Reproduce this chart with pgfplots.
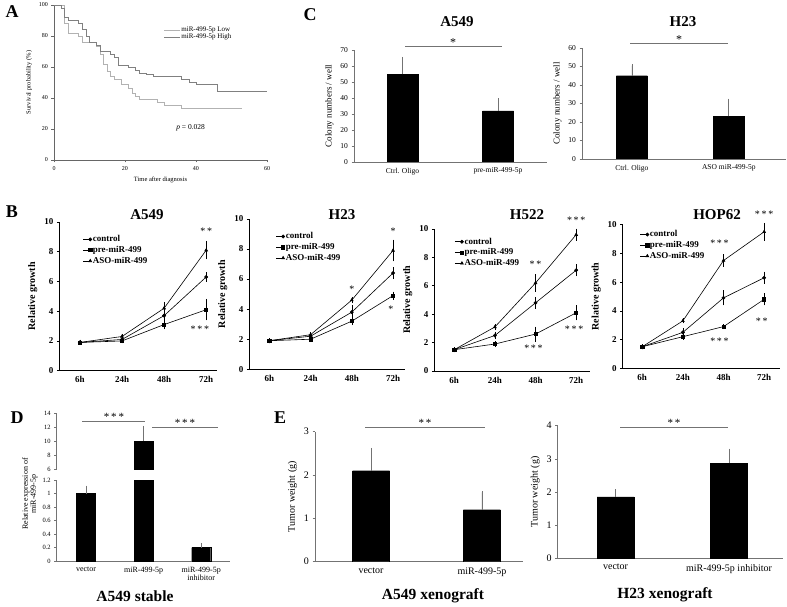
\documentclass[border=0pt]{standalone}
\usepackage{pgfplots}
\pgfplotsset{compat=1.18}
\usepackage{fontspec}
\setmainfont{Liberation Serif}
\newcommand{\fs}[1]{\fontsize{#1}{#1}\selectfont}
\definecolor{axgray}{gray}{0.45}
\definecolor{errgray}{gray}{0.45}
\pgfplotsset{
  base/.style={scale only axis, anchor=south west,
    axis x line*=bottom, axis y line*=left,
    /pgf/number format/assume math mode=true,
    tick align=outside, major tick length=2.5pt,
    axis line style={axgray, line width=0.6pt},
    every tick/.style={axgray, line width=0.6pt},
  },
  barax/.style={base, ybar, ymin=0, xtick=data,
    major x tick style={draw=none},
    xticklabel style={align=center},
  },
  barplot/.style={fill=black, draw=black,
    error bars/y dir=plus, error bars/y explicit,
    error bars/error bar style={errgray, line width=0.7pt},
    error bars/error mark options={errgray, mark size=1.2pt, line width=0.7pt}},
  grow/.style={base, ymin=0, ymax=10, xtick={0,1,2,3}, xticklabels={6h,24h,48h,72h},
    ytick={0,2,4,6,8,10},
    major x tick style={draw=none}, clip=false,
    axis line style={black, line width=0.6pt}, every tick/.style={black, line width=0.6pt},
    tick label style={font=\fs{9}\bfseries},
    ylabel={Relative growth}, ylabel style={font=\fs{10}\bfseries},
    legend style={draw=none, fill=none, font=\fs{9}\bfseries, anchor=north west,
      legend cell align=left, row sep=1pt, nodes={inner sep=1pt}},
    legend image code/.code={\draw[mark repeat=2,mark phase=2] plot coordinates {(0pt,0pt) (7pt,0pt)};},
  },
  gline/.style={black, line width=0.6pt, mark size=1.6pt,
    error bars/y dir=both, error bars/y explicit, error bars/error bar style={line width=0.5pt},
    error bars/error mark options={mark size=1.8pt, line width=0.5pt}},
}
\begin{document}
\begin{tikzpicture}
\path[use as bounding box] (0pt,0pt) rectangle (787pt,606pt);

% ---------------- Panel A ----------------
\begin{axis}[base, at={(54pt,446pt)}, width=213pt, height=155pt,
  xmin=0, xmax=60, ymin=0, ymax=100, xtick={0,20,40,60}, ytick={0,20,40,60,80,100},
  axis line style={black!60}, every tick/.style={black!60},
  tick label style={font=\fs{6}},
  xlabel={Time after diagnosis}, ylabel={Survival probability (\%)},
  label style={font=\fs{6.5}},
  legend style={at={(0.5,0.88)}, anchor=north west, draw=none, fill=none,
    font=\fs{7}, legend cell align=left, row sep=-1pt, nodes={inner sep=1pt}},
  legend image code/.code={\draw (0pt,0pt)--(16pt,0pt);}]
\addplot[const plot, black!30, line width=0.7pt] coordinates {
(0,100) (3,88) (4,82) (7,80) (8,76) (12,73) (13,68) (14,62) (15,57) (16,54) (17,52)
(19,49) (21,46) (22,43) (23,41) (24,39) (29,37) (31,35) (36,33) (53,33)};
\addlegendentry{miR-499-5p Low}
\addplot[const plot, black!50, line width=0.7pt] coordinates {
(0,100) (2,98) (3,92) (4,90) (7,88) (8,84) (9,80) (10,76) (12,74) (13,70) (16,68)
(17,66) (18,61) (21,60) (23,58) (24,56) (26,55) (28,54) (36,52) (38,50) (40,49)
(46,44) (60,44)};
\addlegendentry{miR-499-5p High}
\node[font=\fs{7.5}] at (axis cs:38.5,21) {\textit{p} = 0.028};
\end{axis}

% ---------------- Panel C ----------------
\begin{axis}[barax, at={(354pt,444pt)}, width=193pt, height=112pt,
  xmin=-0.508, xmax=1.513, ymax=70, ytick={0,10,20,30,40,50,60,70},
  xticklabels={Ctrl. Oligo, pre-miR-499-5p},
  tick label style={font=\fs{7.5}}, ylabel={Colony numbers / well}, ylabel style={font=\fs{9}}]
\addplot[barplot, bar width=31pt] coordinates {(0,55) +- (0,10) (1,32) +- (0,7)};
\end{axis}
\begin{axis}[barax, at={(582pt,447pt)}, width=204pt, height=111pt,
  xmin=-0.515, xmax=1.59, ymax=60, ytick={0,10,20,30,40,50,60},
  xticklabels={Ctrl. Oligo, ASO miR-499-5p},
  tick label style={font=\fs{7.5}}, ylabel={Colony numbers / well}, ylabel style={font=\fs{9}}]
\addplot[barplot, bar width=31pt] coordinates {(0,45) +- (0,5.5) (1,23) +- (0,9)};
\end{axis}
\draw[axgray, line width=0.7pt] (405pt,560pt) -- (502pt,560pt);
\node[anchor=base, font=\fs{12}] at (453pt,559pt) {*};
\draw[axgray, line width=0.7pt] (630pt,563pt) -- (728pt,563pt);
\node[anchor=base, font=\fs{12}] at (679pt,562pt) {*};
\node[font=\fs{15}\bfseries] at (457pt,584pt) {A549};
\node[font=\fs{15}\bfseries] at (683pt,584pt) {H23};

% ---------------- Panel B ----------------
\begin{axis}[grow, at={(59.3pt,235.3pt)}, width=157.4pt, height=148.75pt,
  xmin=-0.49, xmax=3.25,
  legend style={at={(0.13,0.93)}}]
\addplot[gline, mark=*] coordinates {(0,1.9) +- (0,0.05) (1,2.1) +- (0,0.05) (2,3.7) +- (0,0.3) (3,6.3) +- (0,0.2)};
\addlegendentry{control}
\addplot[gline, mark=square*] coordinates {(0,1.9) +- (0,0.05) (1,2.0) +- (0,0.05) (2,3.1) +- (0,0.2) (3,4.1) +- (0,0.6)};
\addlegendentry{pre-miR-499}
\addplot[gline, mark=triangle*] coordinates {(0,1.9) +- (0,0.05) (1,2.3) +- (0,0.05) (2,4.2) +- (0,0.3) (3,8.1) +- (0,0.5)};
\addlegendentry{ASO-miR-499}
\node[font=\fs{10}] at (axis cs:3,9.35) {*\,*};
\node[font=\fs{10}] at (axis cs:2.85,2.8) {*\,*\,*};
\end{axis}

\begin{axis}[grow, at={(249.3pt,236.7pt)}, width=155.7pt, height=150.4pt,
  xmin=-0.485, xmax=3.29,
  legend style={at={(0.15,0.93)}}]
\addplot[gline, mark=*] coordinates {(0,1.9) +- (0,0.05) (1,2.2) +- (0,0.05) (2,3.8) +- (0,0.35) (3,6.4) +- (0,0.25)};
\addlegendentry{control}
\addplot[gline, mark=square*] coordinates {(0,1.9) +- (0,0.05) (1,2.0) +- (0,0.05) (2,3.2) +- (0,0.15) (3,4.9) +- (0,0.15)};
\addlegendentry{pre-miR-499}
\addplot[gline, mark=triangle*] coordinates {(0,1.9) +- (0,0.05) (1,2.3) +- (0,0.05) (2,4.6) +- (0,0.1) (3,7.9) +- (0,0.6)};
\addlegendentry{ASO-miR-499}
\node[font=\fs{10}] at (axis cs:2,5.3) {*};
\node[font=\fs{10}] at (axis cs:3,9.15) {*};
\node[font=\fs{10}] at (axis cs:2.95,4.0) {*};
\end{axis}

\begin{axis}[grow, at={(434.3pt,235pt)}, width=155.7pt, height=142pt,
  xmin=-0.49, xmax=3.34,
  legend style={at={(0.11,0.96)}}]
\addplot[gline, mark=*] coordinates {(0,1.5) +- (0,0.05) (1,2.5) +- (0,0.15) (2,4.8) +- (0,0.3) (3,7.1) +- (0,0.3)};
\addlegendentry{control}
\addplot[gline, mark=square*] coordinates {(0,1.5) +- (0,0.05) (1,1.9) +- (0,0.1) (2,2.6) +- (0,0.4) (3,4.1) +- (0,0.4)};
\addlegendentry{pre-miR-499}
\addplot[gline, mark=triangle*] coordinates {(0,1.5) +- (0,0.05) (1,3.1) +- (0,0.1) (2,6.2) +- (0,0.5) (3,9.6) +- (0,0.3)};
\addlegendentry{ASO-miR-499}
\node[font=\fs{10}] at (axis cs:2,7.5) {*\,*};
\node[font=\fs{10}] at (axis cs:3,10.6) {*\,*\,*};
\node[font=\fs{10}] at (axis cs:2.95,2.95) {*\,*\,*};
\node[font=\fs{10}] at (axis cs:1.95,1.6) {*\,*\,*};
\end{axis}

\begin{axis}[grow, at={(622.7pt,237.7pt)}, width=157.3pt, height=143.7pt,
  xmin=-0.48, xmax=3.39,
  legend style={at={(0.09,0.98)}}]
\addplot[gline, mark=*] coordinates {(0,1.5) +- (0,0.05) (1,2.5) +- (0,0.15) (2,4.9) +- (0,0.4) (3,6.3) +- (0,0.3)};
\addlegendentry{control}
\addplot[gline, mark=square*] coordinates {(0,1.5) +- (0,0.05) (1,2.2) +- (0,0.1) (2,2.9) +- (0,0.05) (3,4.8) +- (0,0.3)};
\addlegendentry{pre-miR-499}
\addplot[gline, mark=triangle*] coordinates {(0,1.5) +- (0,0.05) (1,3.3) +- (0,0.05) (2,7.5) +- (0,0.3) (3,9.5) +- (0,0.5)};
\addlegendentry{ASO-miR-499}
\node[font=\fs{10}] at (axis cs:1.9,8.7) {*\,*\,*};
\node[font=\fs{10}] at (axis cs:3,10.7) {*\,*\,*};
\node[font=\fs{10}] at (axis cs:2.94,3.25) {*\,*};
\node[font=\fs{10}] at (axis cs:1.9,1.85) {*\,*\,*};
\end{axis}
\node[font=\fs{15}\bfseries] at (147pt,391pt) {A549};
\node[font=\fs{15}\bfseries] at (342pt,391pt) {H23};
\node[font=\fs{15}\bfseries] at (527pt,391pt) {H522};
\node[font=\fs{15}\bfseries] at (717pt,391pt) {HOP62};

% ---------------- Panel D ----------------
\begin{axis}[barax, at={(56.7pt,45pt)}, width=173.3pt, height=81pt,
  xmin=-0.51, xmax=2.5, ymax=1.2, ytick={0,0.2,0.4,0.6,0.8,1,1.2},
  xticklabels={vector, miR-499-5p, {miR-499-5p\\inhibitor}},
  yticklabel style={font=\fs{6.5}}, xticklabel style={font=\fs{8}}]
\addplot[barplot, bar width=19pt] coordinates {(0,1) +- (0,0.1) (1,10) +- (0,0) (2,0.2) +- (0,0.05)};
\end{axis}
\begin{axis}[base, ybar, at={(56.7pt,136.7pt)}, width=173.3pt, height=56.3pt,
  xmin=-0.51, xmax=2.5, ymin=6, ymax=14, ytick={6,8,10,12,14},
  axis x line=none, xtick=\empty, yticklabel style={font=\fs{6.5}}]
\addplot[barplot, bar width=19pt] coordinates {(1,10) +- (0,2)};
\end{axis}
\node[rotate=90, align=center, font=\fs{8}] at (30pt,112pt) {Relative expression of\\miR-499-5p};
\draw[axgray, line width=0.7pt] (82pt,185pt) -- (145pt,185pt);
\node[anchor=base, font=\fs{11}] at (114pt,186pt) {*\,*\,*};
\draw[axgray, line width=0.7pt] (152pt,179pt) -- (218pt,179pt);
\node[anchor=base, font=\fs{11}] at (185pt,180pt) {*\,*\,*};
\node[font=\fs{15.5}\bfseries] at (135pt,10pt) {A549 stable};

% ---------------- Panel E ----------------
\begin{axis}[barax, at={(315pt,44.3pt)}, width=208pt, height=130pt,
  xmin=-0.505, xmax=1.37, ymax=3, ytick={0,1,2,3},
  xticklabels={vector, miR-499-5p},
  tick label style={font=\fs{10}}, ylabel={Tumor weight (g)}, ylabel style={font=\fs{10}}]
\addplot[barplot, bar width=37pt] coordinates {(0,2.1) +- (0,0.5) (1,1.2) +- (0,0.4)};
\end{axis}
\begin{axis}[barax, at={(557.7pt,47.7pt)}, width=225.3pt, height=132.6pt,
  xmin=-0.51, xmax=1.476, ymax=4, ytick={0,1,2,3,4},
  xticklabels={vector, miR-499-5p inhibitor},
  tick label style={font=\fs{10}}, ylabel={Tumor weight (g)}, ylabel style={font=\fs{10}}]
\addplot[barplot, bar width=37pt] coordinates {(0,1.85) +- (0,0.2) (1,2.87) +- (0,0.4)};
\end{axis}
\draw[axgray, line width=0.7pt] (365pt,179pt) -- (485pt,179pt);
\node[anchor=base, font=\fs{11}] at (425pt,180pt) {*\,*};
\draw[axgray, line width=0.7pt] (620pt,179pt) -- (728pt,179pt);
\node[anchor=base, font=\fs{11}] at (674pt,180pt) {*\,*};
\node[font=\fs{15.5}\bfseries] at (433pt,10pt) {A549 xenograft};
\node[font=\fs{15.5}\bfseries] at (665pt,11pt) {H23 xenograft};

% ---------------- Panel letters ----------------
\node[font=\fs{18}\bfseries] at (12pt,594pt) {A};
\node[font=\fs{18}\bfseries] at (310pt,591pt) {C};
\node[font=\fs{18}\bfseries] at (12pt,394pt) {B};
\node[font=\fs{18}\bfseries] at (17pt,188pt) {D};
\node[font=\fs{18}\bfseries] at (280pt,188pt) {E};
\end{tikzpicture}
\end{document}
